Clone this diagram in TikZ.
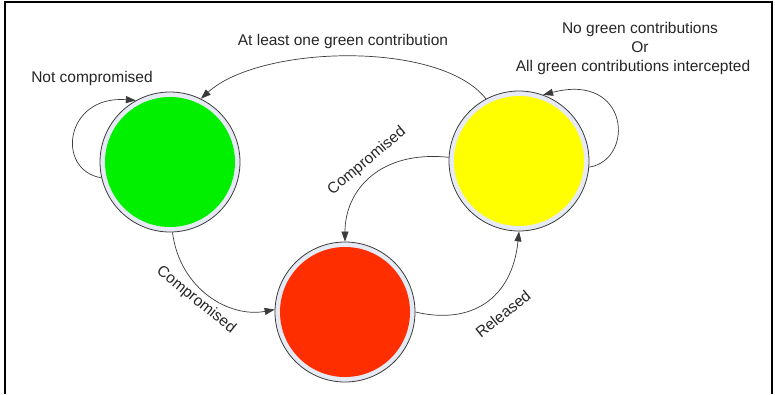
\documentclass[tikz,border=0pt]{standalone}
\usepackage{fontspec}
\setmainfont{Liberation Sans}
\usetikzlibrary{arrows.meta}
\definecolor{ringc}{HTML}{E6EAF4}
\definecolor{edgec}{HTML}{3A3A3A}
\definecolor{gfill}{HTML}{00F000}
\definecolor{yfill}{HTML}{FFFF00}
\definecolor{rfill}{HTML}{FF2E00}
\tikzset{
  state/.style={circle, draw=edgec, line width=0.8pt, fill=ringc, minimum size=140pt, inner sep=0pt,
    path picture={\fill[#1] (path picture bounding box.center) circle (65pt);}},
  conn/.style={draw=edgec, line width=0.7pt, -{Triangle[length=10pt,width=7pt]}},
  lbl/.style={font=\fontsize{15.5}{18}\selectfont, inner sep=0pt, text=black!85},
}
\begin{document}
\begin{tikzpicture}[x=1pt,y=-1pt]
\useasboundingbox (0,0) rectangle (775,394);
\draw[line width=2pt] (5,394) -- (5,2) -- (772,2) -- (772,394);
\node[state=gfill] (g) at (170,162) {};
\node[state=yfill, minimum size=140pt] (y) at (519,161) {};
\node[state=rfill] (r) at (345,312) {};
% green self loop
\draw[conn] (g.193) .. controls (55,170) and (65,95) .. (g.119);
% yellow self loop
\draw[conn] (y.-5) .. controls (635,160) and (630,72) .. (y.70);
% yellow -> green
\draw[conn] (y.118) .. controls (440,40) and (260,45) .. (g.64);
% yellow -> red
\draw[conn] (y.177) .. controls (380,150) and (345,190) .. (r.90);
% green -> red
\draw[conn] (g.-88) .. controls (180,290) and (230,318) .. (r.178);
% red -> yellow
\draw[conn] (r.0) .. controls (470,325) and (512,300) .. (y.-90);
% labels
\node[lbl] (l1) at (92,78) {Not compromised};
\node[lbl] (l2) at (343,41) {At least one green contribution};
\node[lbl] (l3) at (640,29) {No green contributions};
\node[lbl] (l4) at (640,47) {Or};
\node[lbl] (l5) at (633,67) {All green contributions intercepted};
\node[lbl, rotate=40] (l6) at (367,161) {Compromised};
\node[lbl, rotate=-39] (l7) at (196,300) {Compromised};
\node[lbl, rotate=39] (l8) at (503,314) {Released};
\end{tikzpicture}
\end{document}
